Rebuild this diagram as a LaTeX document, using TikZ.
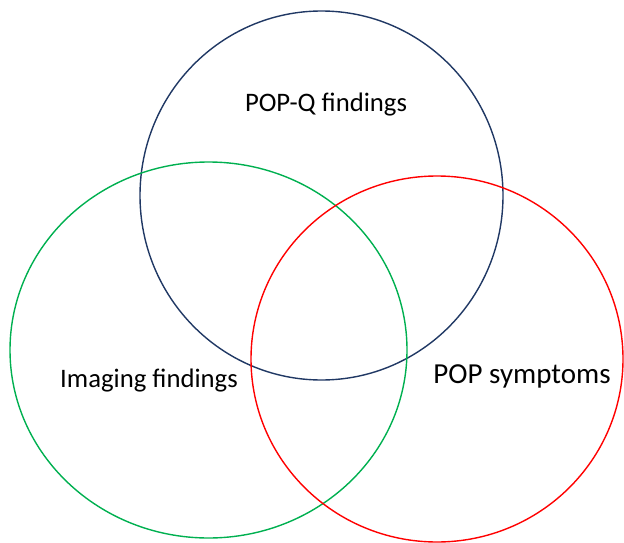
\documentclass[tikz,border=0pt]{standalone}
\usepackage{fontspec}
\setmainfont{Carlito}
\usetikzlibrary{shapes.geometric}
\definecolor{cblue}{HTML}{203864}
\definecolor{cgreen}{HTML}{00B050}
\definecolor{cred}{HTML}{FF0000}
\begin{document}
\begin{tikzpicture}[x=1pt,y=-1pt,
  setring/.style={ellipse, draw, line width=1.4pt, inner sep=0pt},
  lbl/.style={font=\fontsize{26.7}{30}\selectfont, text=black}]
\useasboundingbox (0,0) rectangle (624,543);
\node[setring, draw=cblue, minimum width=363pt, minimum height=369pt] (pq) at (321.5,195.5) {};
\node[setring, draw=cgreen, minimum width=397pt, minimum height=376pt] (img) at (208.5,350) {};
\node[setring, draw=cred, minimum width=372pt, minimum height=366pt] (sym) at (437,359) {};
\node[lbl] (tpq) at (326,105) {POP-Q findings};
\node[lbl] (timg) at (149,381) {Imaging findings};
\node[lbl, font=\fontsize{29}{33}\selectfont] (tsym) at (522,376) {POP symptoms};
\end{tikzpicture}
\end{document}
